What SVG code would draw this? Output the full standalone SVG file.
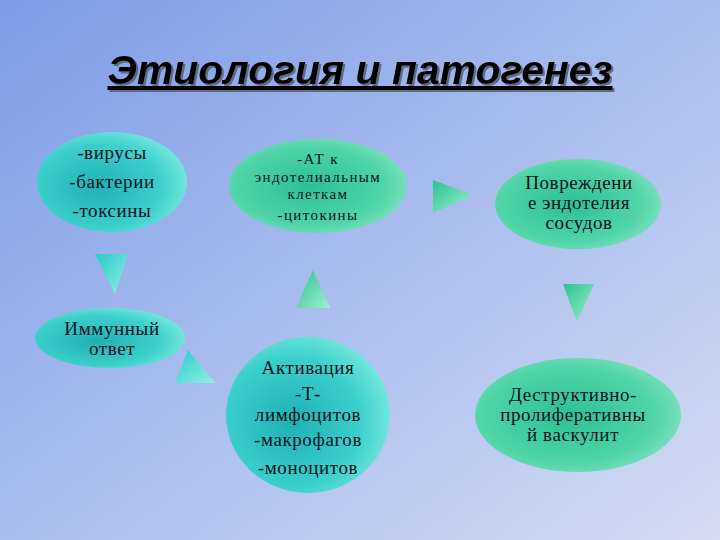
<svg xmlns="http://www.w3.org/2000/svg" width="720" height="540" viewBox="0 0 720 540">
<defs>
<linearGradient id="bg" x1="0" y1="0" x2="1" y2="1">
<stop offset="0" stop-color="#7d9ce6"/>
<stop offset="0.5" stop-color="#a9bdee"/>
<stop offset="1" stop-color="#d4dcf2"/>
</linearGradient>
<radialGradient id="cyan" cx="0.4" cy="0.55" r="0.7">
<stop offset="0" stop-color="#1fb0b4"/>
<stop offset="0.6" stop-color="#3cd0cc"/>
<stop offset="1" stop-color="#8cf0e6"/>
</radialGradient>
<radialGradient id="green" cx="0.45" cy="0.5" r="0.7">
<stop offset="0" stop-color="#2cc096"/>
<stop offset="0.6" stop-color="#50d4a8"/>
<stop offset="1" stop-color="#a0ecd0"/>
</radialGradient>
<linearGradient id="tcyan" x1="0" y1="0" x2="1" y2="1">
<stop offset="0" stop-color="#2ac8c8"/>
<stop offset="1" stop-color="#90f0e8"/>
</linearGradient>
<linearGradient id="tgreen" x1="0" y1="0" x2="1" y2="1">
<stop offset="0" stop-color="#2cc090"/>
<stop offset="1" stop-color="#a0f0d0"/>
</linearGradient>
<filter id="sh" x="-5%" y="-20%" width="110%" height="150%">
<feDropShadow dx="2" dy="2" stdDeviation="0.6" flood-color="#5a6478" flood-opacity="0.9"/>
</filter>
</defs>
<style>
.t{font-family:"Liberation Serif","DejaVu Serif",serif;font-size:19px;letter-spacing:0.6px;fill:#0c1420;text-anchor:middle}
.s{font-size:15px;letter-spacing:1.4px}
.title{font-family:"Liberation Sans",Arial,sans-serif;font-weight:bold;font-style:italic;font-size:40px;text-anchor:middle;text-decoration:underline}
</style>
<rect width="720" height="540" fill="url(#bg)"/>
<g id="title">
<text class="title" x="360" y="84" fill="#000" filter="url(#sh)" textLength="505" lengthAdjust="spacingAndGlyphs">Этиология и патогенез</text>
</g>
<g id="connectors">
<polygon points="95,254 128,254 115,294" fill="url(#tcyan)"/>
<polygon points="313,270 296,308 330,308" fill="url(#tgreen)"/>
<polygon points="433,180 433,213 473,195" fill="url(#tgreen)"/>
<polygon points="563,284 594,284 577,322" fill="url(#tgreen)"/>
<polygon points="188,350 175,383 215,383" fill="url(#tcyan)"/>
</g>
<g id="n1">
<ellipse cx="112" cy="182" rx="75" ry="50" fill="url(#cyan)"/>
<text class="t" x="112" y="159">-вирусы</text>
<text class="t" x="112" y="188">-бактерии</text>
<text class="t" x="112" y="217">-токсины</text>
</g>
<g id="n2">
<ellipse cx="318" cy="186" rx="89" ry="47" fill="url(#green)"/>
<text class="t s" x="318" y="164">-АТ к</text>
<text class="t s" x="318" y="182">эндотелиальным</text>
<text class="t s" x="318" y="199">клеткам</text>
<text class="t s" x="318" y="220">-цитокины</text>
</g>
<g id="n3">
<ellipse cx="578" cy="204" rx="83" ry="45" fill="url(#green)"/>
<text class="t" x="579" y="189">Повреждени</text>
<text class="t" x="579" y="209">е эндотелия</text>
<text class="t" x="579" y="229">сосудов</text>
</g>
<g id="n4">
<ellipse cx="110" cy="338" rx="75" ry="30" fill="url(#cyan)"/>
<text class="t" x="112" y="335">Иммунный</text>
<text class="t" x="112" y="355">ответ</text>
</g>
<g id="n5">
<ellipse cx="308" cy="415" rx="82" ry="78" fill="url(#cyan)"/>
<text class="t" x="308" y="374">Активация</text>
<text class="t" x="308" y="400">-Т-</text>
<text class="t" x="308" y="421">лимфоцитов</text>
<text class="t" x="308" y="446">-макрофагов</text>
<text class="t" x="308" y="474">-моноцитов</text>
</g>
<g id="n6">
<ellipse cx="578" cy="415" rx="103" ry="57" fill="url(#green)"/>
<text class="t" x="573" y="401">Деструктивно-</text>
<text class="t" x="573" y="421">пролиферативны</text>
<text class="t" x="573" y="441">й васкулит</text>
</g>
</svg>
